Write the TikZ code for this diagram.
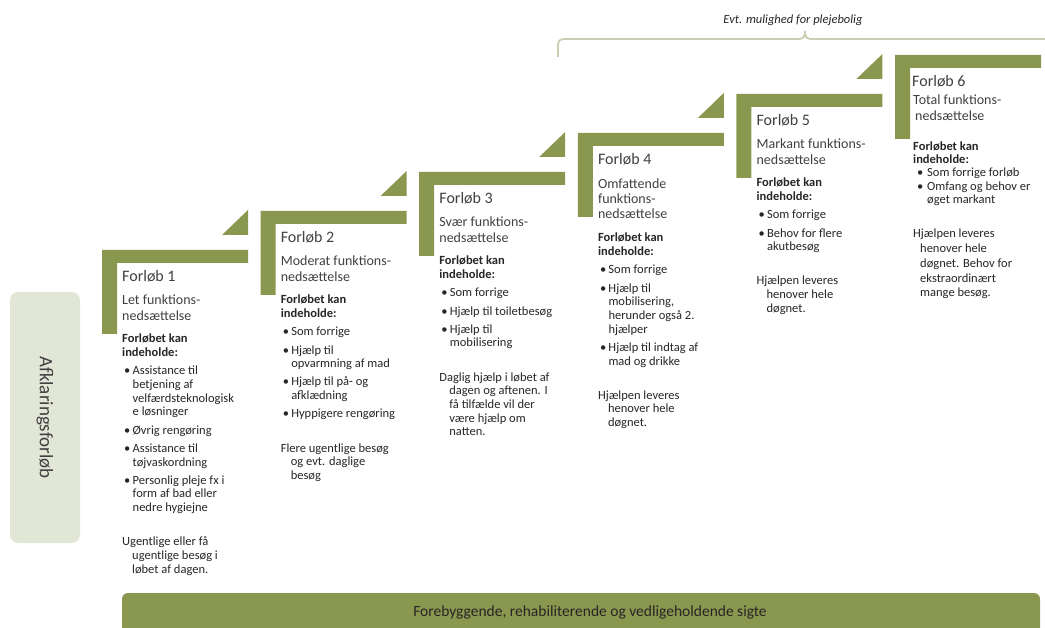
\documentclass[tikz,border=0pt]{standalone}
\usepackage{fontspec}
\setmainfont{Carlito}
\definecolor{stepolive}{RGB}{138,151,79}
\definecolor{bracecol}{RGB}{200,208,180}
\definecolor{boxgray}{RGB}{226,230,214}
\definecolor{txt}{RGB}{38,38,38}
\definecolor{ttl}{RGB}{64,64,64}
\newcommand\bodyset{\fontsize{12.5}{13.7}\selectfont\baselineskip=13.7pt\lineskip=0pt\lineskiplimit=-20pt}
\newcommand\subsetup{\baselineskip=16pt\lineskip=0pt\lineskiplimit=-20pt}
\newcommand\pline[1]{\hbox{#1}}
\newcommand\pcont[1]{\hbox{\hskip10pt #1}}
\newcommand\bfirst[1]{\hbox{\hbox to 10.5pt{\hskip2pt\textbullet\hss}#1}}
\newcommand\bcont[1]{\hbox{\hskip10.5pt #1}}
\newcommand\hdr{\pline{\bfseries Forløbet kan}\pline{\bfseries indeholde:}\vskip4.5pt}
\newcommand\ig{\vskip4.5pt}
\newcommand\cg{\vskip20.5pt}
\begin{document}
\begin{tikzpicture}[x=1pt,y=-1pt,
  steptitle/.style={anchor=base west,inner sep=0pt,text=ttl,font=\fontsize{16}{18}\selectfont},
  stepsub/.style={anchor=base west,inner sep=0pt,text=ttl,font=\fontsize{14}{16}\selectfont},
  stepbody/.style={anchor=base west,inner sep=0pt,text=txt,font=\bodyset},
  brace/.style={draw=bracecol,line width=1.8pt}]
\useasboundingbox (0,0) rectangle (1045,628);
% steps
\foreach \i in {1,...,6}{
  \pgfmathsetmacro\xo{102+158.6*(\i-1)}
  \pgfmathsetmacro\yt{250-39*(\i-1)}
  \fill[stepolive] (\xo,\yt) -- ++(146,0) -- ++(0,13) -- ++(-131,0) -- ++(0,71) -- ++(-15,0) -- cycle;
  \ifnum\i<6
    \fill[stepolive] (\xo+146,\yt-15) -- (\xo+146,\yt-40) -- (\xo+120,\yt-15) -- cycle;
  \fi
}
% bracket
\draw[brace,rounded corners=5] (558,57) -- (558,39) -- (805,39) -- (805,31);
\draw[brace,rounded corners=5] (805,31) -- (805,39) -- (1060,39);
\node[inner sep=0pt,text=txt,font=\fontsize{12.5}{14}\selectfont\itshape] (evt) at (793,20) {Evt. mulighed for plejebolig};
% left box
\node[fill=boxgray,rounded corners=8pt,rotate=-90,minimum width=251pt,minimum height=70pt,inner sep=0pt,text=ttl,font=\fontsize{19}{21}\selectfont] (afk) at (45,417.5) {Afklaringsforløb};
% bottom bar
\fill[stepolive,rounded corners=6pt] (122,593) rectangle (1040,650);
\node[inner sep=0pt,text=txt,font=\fontsize{15.5}{17}\selectfont] (bar) at (590,612) {Forebyggende, rehabiliterende og vedligeholdende sigte};
% column 1
\node[steptitle] (t1) at (122,282) {Forløb 1};
\node[stepsub] (s1) at (122,305) {\vtop{\subsetup\hbox{Let funktions-}\hbox{nedsættelse}}};
\node[stepbody] (b1) at (122,343) {\vtop{\hdr
 \bfirst{Assistance til}\bcont{betjening af}\bcont{velfærdsteknologisk}\bcont{e løsninger}\ig
 \bfirst{Øvrig rengøring}\ig
 \bfirst{Assistance til}\bcont{tøjvaskordning}\ig
 \bfirst{Personlig pleje fx i}\bcont{form af bad eller}\bcont{nedre hygiejne}\cg
 \pline{Ugentlige eller få}\pcont{ugentlige besøg i}\pcont{løbet af dagen.}}};
% column 2
\node[steptitle] (t2) at (280.6,243) {Forløb 2};
\node[stepsub] (s2) at (280.6,266) {\vtop{\subsetup\hbox{Moderat funktions-}\hbox{nedsættelse}}};
\node[stepbody] (b2) at (280.6,304) {\vtop{\hdr
 \bfirst{Som forrige}\ig
 \bfirst{Hjælp til}\bcont{opvarmning af mad}\ig
 \bfirst{Hjælp til på- og}\bcont{afklædning}\ig
 \bfirst{Hyppigere rengøring}\cg
 \pline{Flere ugentlige besøg}\pcont{og evt. daglige}\pcont{besøg}}};
% column 3
\node[steptitle] (t3) at (439.2,204) {Forløb 3};
\node[stepsub] (s3) at (439.2,227) {\vtop{\subsetup\hbox{Svær funktions-}\hbox{nedsættelse}}};
\node[stepbody] (b3) at (439.2,265) {\vtop{\hdr
 \bfirst{Som forrige}\ig
 \bfirst{Hjælp til toiletbesøg}\ig
 \bfirst{Hjælp til}\bcont{mobilisering}\cg
 \pline{Daglig hjælp i løbet af}\pcont{dagen og aftenen. I}\pcont{få tilfælde vil der}\pcont{være hjælp om}\pcont{natten.}}};
% column 4
\node[steptitle] (t4) at (597.8,165) {Forløb 4};
\node[stepsub] (s4) at (597.8,189) {\vtop{\baselineskip=15pt\lineskip=0pt\lineskiplimit=-20pt\hbox{Omfattende}\hbox{funktions-}\hbox{nedsættelse}}};
\node[stepbody] (b4) at (597.8,242) {\vtop{\hdr
 \bfirst{Som forrige}\ig
 \bfirst{Hjælp til}\bcont{mobilisering,}\bcont{herunder også 2.}\bcont{hjælper}\ig
 \bfirst{Hjælp til indtag af}\bcont{mad og drikke}\cg
 \pline{Hjælpen leveres}\pcont{henover hele}\pcont{døgnet.}}};
% column 5
\node[steptitle] (t5) at (756.4,126) {Forløb 5};
\node[stepsub] (s5) at (756.4,149) {\vtop{\subsetup\hbox{Markant funktions-}\hbox{nedsættelse}}};
\node[stepbody] (b5) at (756.4,187) {\vtop{\hdr
 \bfirst{Som forrige}\ig
 \bfirst{Behov for flere}\bcont{akutbesøg}\cg
 \pline{Hjælpen leveres}\pcont{henover hele}\pcont{døgnet.}}};
% column 6
\node[steptitle] (t6) at (912,87) {Forløb 6};
\node[stepsub] (s6) at (913,105) {\vtop{\subsetup\hbox{Total funktions-}\hbox{\hskip2pt nedsættelse}}};
\node[stepbody] (b6) at (913,151) {\vtop{\baselineskip=12.5pt
 \pline{\bfseries Forløbet kan}\pline{\bfseries indeholde:}\baselineskip=13.5pt
 \hbox{\hbox to 14pt{\hskip4pt\textbullet\hss}Som forrige forløb}
 \hbox{\hbox to 14pt{\hskip4pt\textbullet\hss}Omfang og behov er}
 \hbox{\hskip14pt øget markant}\vskip19pt\baselineskip=14.8pt
 \pline{Hjælpen leveres}\hbox{\hskip7pt henover hele}\hbox{\hskip7pt døgnet. Behov for}\hbox{\hskip7pt ekstraordinært}\hbox{\hskip7pt mange besøg.}}};
\end{tikzpicture}
\end{document}
